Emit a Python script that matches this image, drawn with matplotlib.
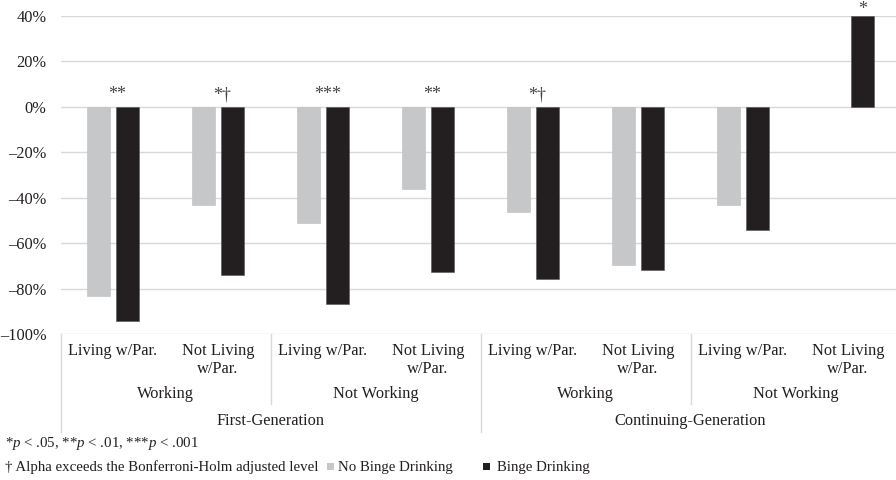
import matplotlib
matplotlib.use("Agg")
import matplotlib.pyplot as plt
from matplotlib.transforms import blended_transform_factory
from matplotlib.lines import Line2D
from matplotlib.patches import Rectangle

# ---- data ----
living = ["Living w/Par.", "Not Living\nw/Par."] * 4
working = ["Working", "Not Working", "Working", "Not Working"]
generation = ["First-Generation", "Continuing-Generation"]
no_binge = [-83.2, -43.4, -51.0, -36.3, -46.2, -69.6, -43.0, 0.0]
binge = [-94.1, -74.1, -86.8, -72.5, -76.0, -72.0, -54.0, 40.0]
sig = ["**", "*\u2020", "***", "**", "*\u2020", "", "", "*"]
yticks = [40, 20, 0, -20, -40, -60, -80, -100]

GRAY = "#c6c7c9"
DARK = "#231f20"
TXT = "#231f20"

plt.rcParams["font.family"] = ["Liberation Serif", "DejaVu Serif"]
plt.rcParams["mathtext.fontset"] = "custom"
plt.rcParams["mathtext.it"] = "Liberation Serif:italic"
plt.rcParams["mathtext.rm"] = "Liberation Serif"

W, H = 896, 480
fig = plt.figure(figsize=(W / 100, H / 100), dpi=100)
left_px, right_px, top_px, bot_px = 60.5, 900.5, 16, 334
ax = fig.add_axes([left_px / W, 1 - bot_px / H, (right_px - left_px) / W, (bot_px - top_px) / H])

n = len(no_binge)
xs = list(range(n))
bw = 0.22
off = 0.14
nb = [(x - off, v) for x, v in zip(xs, no_binge) if v != 0]
ax.bar([p[0] for p in nb], [p[1] for p in nb], width=bw, color=GRAY, edgecolor="#bdbec0",
       linewidth=0.4, zorder=3)
ax.bar([x + off for x in xs], binge, width=bw, color=DARK, edgecolor="#555555", linewidth=0.4, zorder=3)

ax.set_xlim(-0.5, n - 0.5)
ax.set_ylim(-100, 40)
ax.set_yticks(yticks)
ax.set_yticklabels([f"{v}%".replace("-", "\u2013") for v in yticks], fontsize=11.8, color=TXT)
ax.tick_params(axis="y", length=0, pad=10)
ax.tick_params(axis="x", length=0, labelbottom=False)
for s in ax.spines.values():
    s.set_visible(False)
ax.grid(axis="y", color="#d9d9d9", linewidth=1.0, zorder=0)
ax.set_axisbelow(True)

# significance marks
STAR = "#444444"
for i, s in enumerate(sig):
    if not s:
        continue
    if binge[i] > 0:
        ax.text(i + off, binge[i] - 0.8, s, ha="center", va="bottom", fontsize=13, color=STAR)
    else:
        ax.text(i + 0.04, 1.5, s, ha="center", va="bottom", fontsize=13, color=STAR)

# hierarchical x labels
tr = blended_transform_factory(ax.transData, fig.transFigure)
def fy(px):
    return 1 - px / H

for i, lab in enumerate(living):
    ax.text(i, fy(343), lab, transform=tr, ha="center", va="top", fontsize=11.8,
            color=TXT, linespacing=1.2, multialignment="center")
for j, lab in enumerate(working):
    ax.text(2 * j + 0.5, fy(394), lab, transform=tr, ha="center", va="center", fontsize=11.8, color=TXT)
for k, lab in enumerate(generation):
    ax.text(4 * k + 1.5, fy(421), lab, transform=tr, ha="center", va="center", fontsize=11.8, color=TXT)

sep_color = "#d9d9d9"
for xb, ybot in [(-0.5, 432), (1.5, 404), (3.5, 432), (5.5, 404), (7.5, 432)]:
    ax.add_line(Line2D([xb, xb], [fy(334), fy(ybot)], transform=tr, color=sep_color,
                       linewidth=1.0, clip_on=False))

# footnotes and legend
FS = 10.7
fig.text(5 / W, fy(443), "*$p$ < .05, **$p$ < .01, ***$p$ < .001", ha="left", va="center",
         fontsize=FS, color=TXT)
fig.text(5 / W, fy(467), "\u2020 Alpha exceeds the Bonferroni-Holm adjusted level", ha="left",
         va="center", fontsize=FS, color=TXT)
sq = 7
fig.patches.append(Rectangle((327 / W, fy(466) - sq / 2 / H), sq / W, sq / H, transform=fig.transFigure,
                             facecolor=GRAY, edgecolor="none"))
fig.text(338 / W, fy(467), "No Binge Drinking", ha="left", va="center", fontsize=FS, color=TXT)
fig.patches.append(Rectangle((483 / W, fy(466) - sq / 2 / H), sq / W, sq / H, transform=fig.transFigure,
                             facecolor=DARK, edgecolor="none"))
fig.text(497 / W, fy(467), "Binge Drinking", ha="left", va="center", fontsize=FS, color=TXT)

fig.savefig("out.png", dpi=100)
